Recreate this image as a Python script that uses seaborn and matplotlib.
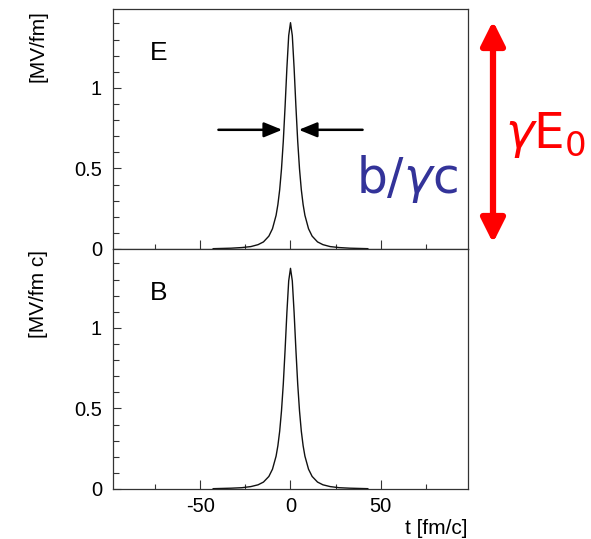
import matplotlib
matplotlib.use("Agg")
import matplotlib.pyplot as plt
from matplotlib.ticker import MultipleLocator
from matplotlib.patches import FancyArrowPatch
import seaborn as sns
import pandas as pd

# values
t_vals = [-43, -33, -27, -22, -18, -15, -12, -10, -8, -7, -6, -5, -4, -3, -2, -1,
          0, 1, 2, 3, 4, 5, 6, 7, 8, 10, 12, 15, 18, 22, 27, 33, 43]
e_vals = [0.002, 0.005, 0.009, 0.015, 0.027, 0.044, 0.080, 0.126, 0.209, 0.276, 0.368,
          0.497, 0.669, 0.886, 1.124, 1.325, 1.405, 1.325, 1.124, 0.886, 0.669, 0.497,
          0.368, 0.276, 0.209, 0.126, 0.080, 0.044, 0.027, 0.015, 0.009, 0.005, 0.002]
b_vals = [0.002, 0.005, 0.008, 0.015, 0.026, 0.043, 0.078, 0.123, 0.204, 0.269, 0.359,
          0.485, 0.652, 0.864, 1.096, 1.292, 1.370, 1.292, 1.096, 0.864, 0.652, 0.485,
          0.359, 0.269, 0.204, 0.123, 0.078, 0.043, 0.026, 0.015, 0.008, 0.005, 0.002]
panel_names = ["E", "B"]
y_labels = ["[MV/fm]", "[MV/fm c]"]
x_ticks = [-50, 0, 50]
y_ticks = [0, 0.5, 1]

sns.set_style("ticks")
plt.rcParams['font.family'] = ['Liberation Sans', 'DejaVu Sans']
plt.rcParams['mathtext.fontset'] = 'dejavusans'
plt.rcParams['axes.unicode_minus'] = False
plt.rcParams['text.color'] = 'black'
plt.rcParams['xtick.labelcolor'] = 'black'
plt.rcParams['ytick.labelcolor'] = 'black'

fig = plt.figure(figsize=(5.91, 5.39), dpi=100)
W, H = 591, 539
ax_top = fig.add_axes([113 / W, 1 - 249 / H, 355 / W, 240 / H])
ax_bot = fig.add_axes([113 / W, 1 - 489 / H, 355 / W, 240 / H])

dfE = pd.DataFrame({"t": t_vals, "v": e_vals})
dfB = pd.DataFrame({"t": t_vals, "v": b_vals})

for ax, df, name, ylab in zip([ax_top, ax_bot], [dfE, dfB], panel_names, y_labels):
    sns.lineplot(data=df, x="t", y="v", ax=ax, color="#111111", linewidth=1.0,
                 sort=False, estimator=None)
    ax.set_xlim(-98.5, 98.5)
    ax.set_ylim(0, 1.49)
    ax.set_xticks(x_ticks)
    ax.set_yticks(y_ticks)
    ax.set_yticklabels(["0", "0.5", "1"])
    ax.xaxis.set_minor_locator(MultipleLocator(25))
    ax.yaxis.set_minor_locator(MultipleLocator(0.1))
    ax.tick_params(axis='x', which='major', direction='in', length=6.5, width=0.8,
                   color='#333333', labelcolor='black', labelsize=14.5, pad=6, top=False)
    ax.tick_params(axis='x', which='minor', direction='in', length=3.3, width=0.8,
                   color='#333333', top=False)
    ax.tick_params(axis='y', which='major', direction='in', length=6, width=0.8,
                   color='#333333', labelcolor='black', labelsize=14.5, pad=8, right=False)
    ax.tick_params(axis='y', which='minor', direction='in', length=4, width=0.8,
                   color='#333333', right=False)
    for s in ax.spines.values():
        s.set_visible(True)
        s.set_color('#333333')
        s.set_linewidth(0.9)
    ax.set_xlabel("")
    ax.set_ylabel("")
    ax.text(0.104, 0.817, name, transform=ax.transAxes, fontsize=19,
            ha='left', va='center', color='black')
    ax.text(-0.211, 0.995, ylab, transform=ax.transAxes, rotation=90,
            fontsize=15, ha='center', va='top', color='black')

ax_top.tick_params(axis='x', labelbottom=False)
ax_bot.text(1.0, -0.165, "t [fm/c]", transform=ax_bot.transAxes, fontsize=15,
            ha='right', va='center', color='black')

# width arrows in the top panel
for x0, x1 in [(-40, -4.6), (40, 4.6)]:
    ax_top.annotate("", xy=(x1, 0.74), xytext=(x0, 0.74),
                    arrowprops=dict(arrowstyle='-|>,head_length=1.1,head_width=0.45',
                                    color='black', lw=1.8, shrinkA=0, shrinkB=0))

fig.text(356 / W, 1 - 193 / H, r"b/$\gamma$c", color='#333399', fontsize=35,
         ha='left', va='baseline', family='DejaVu Sans')

# red double arrow outside
arr = FancyArrowPatch((493 / W, 1 - 21 / H), (493 / W, 1 - 243 / H),
                      transform=fig.transFigure,
                      arrowstyle='<|-|>,head_length=1.2,head_width=0.6',
                      color='#ff0000', lw=4.5, shrinkA=0, shrinkB=0,
                      mutation_scale=12)
fig.add_artist(arr)
fig.text(505 / W, 1 - 148 / H, r"$\gamma\mathrm{E}_0$", color='#ff0000', fontsize=35,
         ha='left', va='baseline')

fig.savefig("out.png", dpi=100)
